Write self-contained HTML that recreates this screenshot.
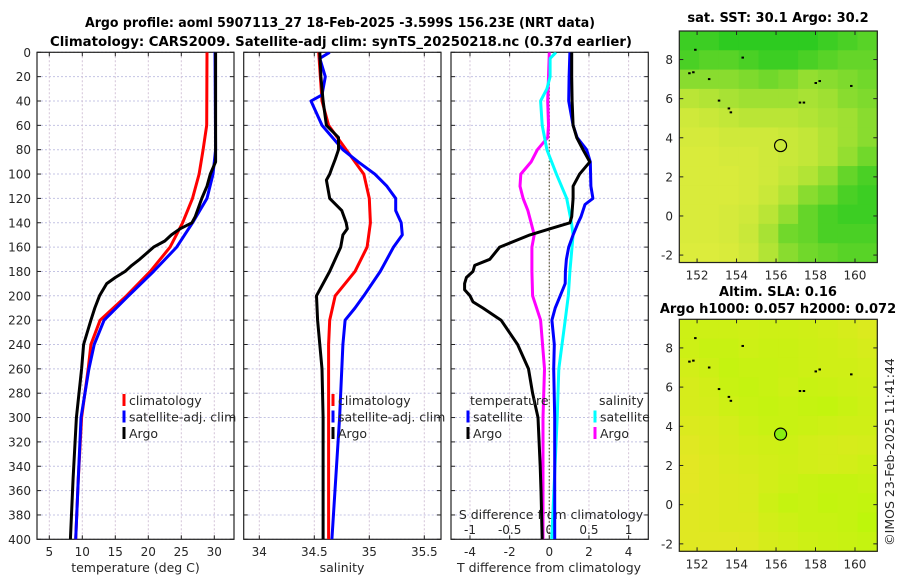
<!DOCTYPE html>
<html><head><meta charset="utf-8"><title>Argo profile</title>
<style>
html,body{margin:0;padding:0;background:#fff;}
svg{display:block;font-family:"DejaVu Sans","Liberation Sans",sans-serif;}
.tk{font-size:12px;fill:#262626;}
.tt{font-size:13px;font-weight:bold;fill:#000;}
.lg{font-size:12.5px;fill:#262626;}
</style></head>
<body>
<svg id="fig" width="900" height="580" viewBox="0 0 900 580" xmlns="http://www.w3.org/2000/svg">
<defs>
<clipPath id="c1"><rect x="37" y="52.3" width="197" height="487"/></clipPath>
<clipPath id="c2"><rect x="243.7" y="52.3" width="197.3" height="487"/></clipPath>
<clipPath id="c3"><rect x="451" y="52.3" width="197.3" height="487"/></clipPath>
</defs>
<text class="tt" x="340" y="27" text-anchor="middle" textLength="510" lengthAdjust="spacingAndGlyphs">Argo profile: aoml 5907113_27 18-Feb-2025 -3.599S 156.23E (NRT data)</text>
<text class="tt" x="341" y="46" text-anchor="middle" textLength="582" lengthAdjust="spacingAndGlyphs">Climatology: CARS2009. Satellite-adj clim: synTS_20250218.nc (0.37d earlier)</text>
<g id="g"></g>
</svg>
<script>
// ---- profile data ----
const tempClimDepth=[0,60,80,100,120,140,160,180,200,220,240,260,280,300,350,400];
const tempClim=[28.9,28.85,28.3,27.7,26.7,25.2,23.3,20.3,16.7,12.7,11.3,10.9,10.4,9.9,9.4,9.0];
const tempSatDepth=[0,80,100,120,140,160,180,200,220,240,260,300,350,400];
const tempSat=[30.1,30.2,29.8,28.9,26.7,24.3,20.8,17,13.3,11.8,11.0,9.8,9.4,9.0];
const tempArgoDepth=[0,90,100,110,120,135,140,145,150,155,160,170,175,180,185,190,200,210,220,240,260,280,300,350,400];
const tempArgo=[30.2,30.2,29.4,28.9,28.1,27.1,26.6,24.8,23.5,22.5,20.8,18.7,17.5,16.5,15,13.7,12.6,11.9,11.3,10.2,9.9,9.5,9.1,8.6,8.2];
const salClimDepth=[0,40,60,80,100,120,140,160,180,200,220,240,260,300,400];
const salClim=[34.54,34.57,34.63,34.79,34.95,35.0,35.01,34.98,34.87,34.69,34.64,34.63,34.63,34.63,34.63];
const salSatDepth=[0,5,20,35,40,60,80,90,100,110,120,130,140,150,160,180,200,210,220,240,260,300,400];
const salSat=[34.64,34.55,34.6,34.57,34.47,34.57,34.76,34.9,35.05,35.16,35.24,35.24,35.29,35.3,35.22,35.1,34.95,34.87,34.78,34.76,34.75,34.73,34.66];
const salArgoDepth=[0,20,40,60,70,80,88,95,100,105,120,130,140,145,150,160,180,200,220,260,300,400];
const salArgo=[34.55,34.56,34.58,34.61,34.72,34.72,34.69,34.66,34.64,34.61,34.64,34.75,34.79,34.8,34.76,34.74,34.64,34.52,34.53,34.57,34.58,34.58];
const dTSatDepth=[0,20,40,60,70,80,90,110,120,125,135,140,150,160,170,180,190,200,210,220,240,260,300,400];
const dTSat=[1.04,1.0,0.98,1.2,1.4,1.88,2.07,2.1,2.2,1.8,1.6,1.45,1.2,0.98,0.86,0.81,0.8,0.55,0.3,0.13,0.25,0.22,0.27,0.27];
const dTArgoDepth=[0,20,40,60,70,80,90,100,110,120,135,140,145,150,160,170,175,180,185,190,195,200,205,210,220,240,260,280,300,340,360,400];
const dTArgo=[1.13,1.13,1.15,1.2,1.38,1.7,2.04,1.53,1.2,1.2,1.13,1.04,0.03,-0.98,-2.5,-3.0,-3.76,-3.85,-4.18,-4.27,-4.27,-4.0,-3.85,-3.35,-2.43,-1.6,-1.05,-0.84,-0.57,-0.46,-0.42,-0.36];
const dSSatDepth=[0,5,20,30,40,60,80,100,120,140,150,180,200,220,260,300,400];
const dSSat=[0.085,0.01,0.01,-0.03,-0.11,-0.09,-0.03,0.09,0.22,0.28,0.3,0.26,0.24,0.2,0.12,0.1,0.03];
const dSArgoDepth=[0,20,40,60,70,80,90,100,110,120,130,140,150,160,180,200,220,260,300,400];
const dSArgo=[0,-0.01,-0.02,-0.01,-0.02,-0.15,-0.23,-0.36,-0.37,-0.33,-0.27,-0.23,-0.19,-0.22,-0.22,-0.21,-0.11,-0.06,-0.08,-0.08];
const depthTicks=[0,20,40,60,80,100,120,140,160,180,200,220,240,260,280,300,320,340,360,380,400];
const tempTicks=[5,10,15,20,25,30];
const salTicks=[34,34.5,35,35.5];
const dTTicks=[-4,-2,0,2,4];
const dSTicks=[-1,-0.5,0,0.5,1];
// ---- map data (rows north->south, cols west->east) ----
const sstGrid=[
[0.9,0.9,0.95,0.95,0.95,0.95,0.95,0.9,0.85,0.8],
[0.85,0.8,0.8,0.85,0.9,0.9,0.85,0.8,0.75,0.75],
[0.6,0.6,0.6,0.65,0.7,0.65,0.55,0.6,0.65,0.7],
[0.35,0.4,0.45,0.5,0.5,0.5,0.45,0.5,0.6,0.65],
[0.2,0.25,0.3,0.35,0.35,0.35,0.4,0.45,0.5,0.6],
[0.15,0.15,0.2,0.2,0.2,0.25,0.3,0.4,0.5,0.6],
[0.1,0.1,0.15,0.15,0.2,0.25,0.3,0.4,0.55,0.7],
[0.1,0.1,0.1,0.15,0.2,0.3,0.4,0.55,0.75,0.85],
[0.1,0.1,0.1,0.15,0.25,0.4,0.6,0.7,0.85,0.9],
[0.1,0.1,0.15,0.2,0.35,0.55,0.75,0.85,0.9,0.9],
[0.1,0.1,0.15,0.25,0.45,0.7,0.75,0.85,0.85,0.85],
[0.05,0.05,0.1,0.2,0.4,0.6,0.7,0.75,0.8,0.8]];
const slaGrid=[
[0.6,0.6,0.6,0.55,0.6,0.6,0.55,0.5,0.4,0.3],
[0.6,0.7,0.7,0.6,0.65,0.65,0.6,0.55,0.5,0.4],
[0.5,0.6,0.75,0.7,0.7,0.65,0.6,0.55,0.55,0.5],
[0.4,0.5,0.7,0.75,0.7,0.6,0.7,0.65,0.6,0.55],
[0.4,0.45,0.6,0.7,0.75,0.7,0.75,0.8,0.7,0.6],
[0.3,0.35,0.45,0.6,0.7,0.7,0.65,0.6,0.55,0.55],
[0.2,0.3,0.4,0.5,0.55,0.6,0.5,0.45,0.4,0.45],
[0.15,0.25,0.35,0.4,0.5,0.55,0.5,0.45,0.5,0.6],
[0.15,0.25,0.3,0.35,0.5,0.6,0.7,0.75,0.75,0.7],
[0.2,0.25,0.3,0.35,0.6,0.75,0.7,0.8,0.75,0.8],
[0.2,0.25,0.3,0.3,0.5,0.6,0.7,0.7,0.75,0.9],
[0.2,0.2,0.2,0.25,0.4,0.5,0.6,0.65,0.7,0.75]];
const lonTicks=[152,154,156,158,160];
const latTicks=[-2,0,2,4,6,8];
const islandLon=[151.9,151.6,151.8,152.6,153.1,153.6,153.7,154.3,157.2,157.4,158.0,158.2,159.8];
const islandLat=[8.5,7.3,7.35,7.0,5.9,5.5,5.3,8.1,5.8,5.8,6.8,6.9,6.65];
const argoLon=156.23, argoLat=3.6;

const NS="http://www.w3.org/2000/svg";
const G=document.getElementById('g');
function mk(tag,at,parent){const e=document.createElementNS(NS,tag);for(const k in at)e.setAttribute(k,at[k]);(parent||G).appendChild(e);return e;}
const Y0=52.3,YS=1.2175,YB=539.3;
const yD=d=>Y0+d*YS;
const panels=[
 {x0:37,x1:234,sx:v=>49.3+(v-5)*6.6,ticks:tempTicks,clip:'c1',name:'temperature'},
 {x0:243.7,x1:441,sx:v=>259.3+(v-34)*110,ticks:salTicks,clip:'c2',name:'salinity'},
 {x0:451,x1:648.3,sx:v=>549.3+v*19.83,ticks:dTTicks,clip:'c3',name:'difference'}];
const sxS=v=>549.3+v*79.3;

panels.forEach((p,i)=>{
 const g=mk('g',{});
 
 
 depthTicks.forEach(d=>{
  const l=mk('line',{x1:p.x0,x2:p.x1,y1:yD(d),y2:yD(d),stroke:'#c4c4e4','stroke-width':1,'stroke-dasharray':'2,2'},g);
  
  
  mk('line',{x1:p.x0,x2:p.x0+4,y1:yD(d),y2:yD(d),stroke:'#222'},g);
  mk('line',{x1:p.x1,x2:p.x1-4,y1:yD(d),y2:yD(d),stroke:'#222'},g);
  if(i===0){const t=mk('text',{x:31,y:yD(d)+4.5,'text-anchor':'end','class':'tk'},g);t.textContent=d;
   
   }
 });
 p.ticks.forEach(v=>{
  const x=p.sx(v);
  const l=mk('line',{x1:x,x2:x,y1:Y0,y2:YB,stroke:'#d4c4d8','stroke-width':1,'stroke-dasharray':'2,2'},g);
  
  
  mk('line',{x1:x,x2:x,y1:YB,y2:YB-4,stroke:'#222'},g);
  mk('line',{x1:x,x2:x,y1:Y0,y2:Y0+4,stroke:'#222'},g);
  const t=mk('text',{x:x,y:556,'text-anchor':'middle','class':'tk'},g);t.textContent=v;
  
  
 });
 const r=mk('rect',{x:p.x0,y:Y0,width:p.x1-p.x0,height:YB-Y0,fill:'none',stroke:'#222','stroke-width':1.2},g);
 
 
});
const zl=mk('line',{x1:549.3,x2:549.3,y1:Y0,y2:YB,stroke:'#555533','stroke-width':1.2,'stroke-dasharray':'1.5,2'});


dSTicks.forEach(v=>{const t=mk('text',{x:sxS(v),y:534,'text-anchor':'middle','class':'tk'});t.textContent=v;
 
 });
const sdt=mk('text',{x:551,y:519,'text-anchor':'middle','class':'lg'});sdt.textContent='S difference from climatology';



function series(depths,vals,sx,color,clip,name){
 const pts=depths.map((d,k)=>sx(vals[k]).toFixed(1)+','+yD(d).toFixed(1)).join(' ');
 const e=mk('polyline',{points:pts,fill:'none',stroke:color,'stroke-width':3,'stroke-linejoin':'round','clip-path':'url(#'+clip+')'});
 
 
}
series(tempClimDepth,tempClim,panels[0].sx,'#ff0000','c1','temp-climatology-line');
series(tempSatDepth,tempSat,panels[0].sx,'#0000ff','c1','temp-satellite-line');
series(tempArgoDepth,tempArgo,panels[0].sx,'#000000','c1','temp-argo-line');
series(salClimDepth,salClim,panels[1].sx,'#ff0000','c2','sal-climatology-line');
series(salSatDepth,salSat,panels[1].sx,'#0000ff','c2','sal-satellite-line');
series(salArgoDepth,salArgo,panels[1].sx,'#000000','c2','sal-argo-line');
series(dSArgoDepth,dSArgo,sxS,'#ff00ff','c3','sdiff-argo-line');
series(dSSatDepth,dSSat,sxS,'#00ffff','c3','sdiff-satellite-line');
series(dTSatDepth,dTSat,panels[2].sx,'#0000ff','c3','tdiff-satellite-line');
series(dTArgoDepth,dTArgo,panels[2].sx,'#000000','c3','tdiff-argo-line');

function legend(x,y,color,label,name){
 const g=mk('g',{});
 
 
 mk('rect',{x:x-1.5,y:y-11,width:3,height:12,fill:color},g);
 const t=mk('text',{x:x+5,y:y,'class':'lg'},g);t.textContent=label;
}
[[0,'#ff0000','climatology'],[1,'#0000ff','satellite-adj. clim'],[2,'#000000','Argo']].forEach(([k,c,l])=>{
 legend(124,405+k*16.5,c,l,'legend-temp-'+k);
 legend(333,405+k*16.5,c,l,'legend-sal-'+k);
});
const lt=mk('text',{x:470,y:405,'class':'lg'});lt.textContent='temperature';


const ls=mk('text',{x:599,y:405,'class':'lg'});ls.textContent='salinity';


legend(468,421.5,'#0000ff','satellite','legend-tdiff-satellite');
legend(468,438,'#000000','Argo','legend-tdiff-argo');
legend(595,421.5,'#00ffff','satellite','legend-sdiff-satellite');
legend(595,438,'#ff00ff','Argo','legend-sdiff-argo');
[[135.5,'temperature (deg C)'],[342,'salinity'],[549,'T difference from climatology']].forEach(([x,s])=>{
 const t=mk('text',{x:x,y:572,'text-anchor':'middle','class':'lg'});t.textContent=s;
 
 
});

// ---- maps ----
function drawMap(top,bottom,grid,c0,c1,gamma,titles,name,filled){
 const x0=679.3,x1=877.3,lon0=151.1,lon1=161.13,lat0=-2.38,lat1=9.46;
 const sx=l=>x0+(l-lon0)/(lon1-lon0)*(x1-x0);
 const sy=l=>bottom-(l-lat0)/(lat1-lat0)*(bottom-top);
 const g=mk('g',{});
 
 
 const nr=grid.length,nc=grid[0].length,cw=(x1-x0)/nc,ch=(bottom-top)/nr;
 grid.forEach((row,r)=>row.forEach((v,c)=>{
  const w=Math.pow(v,gamma);
  const col='rgb('+[0,1,2].map(k=>Math.round(c0[k]+(c1[k]-c0[k])*w)).join(',')+')';
  const cell=mk('rect',{x:x0+c*cw,y:top+r*ch,width:cw+0.6,height:ch+0.6,fill:col},g);
  
  
 }));
 islandLon.forEach((lo,k)=>{
  const d=mk('rect',{x:sx(lo)-1,y:sy(islandLat[k])-1,width:2.5,height:2,fill:'#000'},g);
  
  
 });
 const c=mk('circle',{cx:sx(argoLon),cy:sy(argoLat),r:6,fill:filled||'none',stroke:'#000','stroke-width':1.2},g);
 
 
 mk('rect',{x:x0,y:top,width:x1-x0,height:bottom-top,fill:'none',stroke:'#222','stroke-width':1.2},g);
 lonTicks.forEach(l=>{const x=sx(l);
  mk('line',{x1:x,x2:x,y1:bottom,y2:bottom-4,stroke:'#222'},g);
  mk('line',{x1:x,x2:x,y1:top,y2:top+4,stroke:'#222'},g);
  const t=mk('text',{x:x,y:bottom+17,'text-anchor':'middle','class':'tk'},g);t.textContent=l;
  
  });
 latTicks.forEach(l=>{const y=sy(l);
  mk('line',{x1:x0,x2:x0+4,y1:y,y2:y,stroke:'#222'},g);
  mk('line',{x1:x1,x2:x1-4,y1:y,y2:y,stroke:'#222'},g);
  const t=mk('text',{x:673,y:y+4.5,'text-anchor':'end','class':'tk'},g);t.textContent=l;
  
  });
 titles.forEach(([y,s])=>{const t=mk('text',{x:778,y:y,'text-anchor':'middle','class':'tt'},g);t.textContent=s;
  
  });
}
drawMap(31,262.5,sstGrid,[222,236,60],[30,200,30],1.6,[[22,'sat. SST: 30.1 Argo: 30.2']],'sst-map');
drawMap(319.3,551.3,slaGrid,[234,228,40],[185,248,8],1,[[296,'Altim. SLA: 0.16'],[313,'Argo h1000: 0.057 h2000: 0.072']],'sla-map','#88ee11');
const cp=mk('text',{x:0,y:0,'class':'lg',transform:'translate(894,452) rotate(-90)','text-anchor':'middle'});
cp.textContent='©IMOS 23-Feb-2025 11:41:44';


</script>
</body></html>
